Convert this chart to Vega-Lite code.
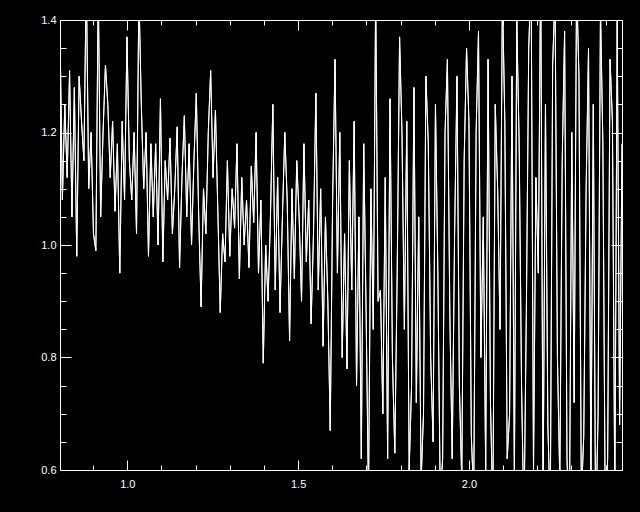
{
  "$schema": "https://vega.github.io/schema/vega-lite/v6.json",
  "width": 562,
  "height": 450,
  "autosize": {"type": "none"},
  "padding": {"left": 60, "top": 20, "right": 18, "bottom": 42},
  "background": "black",
  "config": {"view": {"stroke": null}},
  "data": {"values": [
    {"x":0.803,"y":1.38},{"x":0.810,"y":1.08},{"x":0.817,"y":1.25},{"x":0.824,"y":1.12},{"x":0.831,"y":1.31},{"x":0.838,"y":1.05},{"x":0.845,"y":1.28},{"x":0.852,"y":0.98},{"x":0.859,"y":1.30},{"x":0.866,"y":1.22},
    {"x":0.873,"y":1.15},{"x":0.880,"y":1.48},{"x":0.887,"y":1.10},{"x":0.894,"y":1.20},{"x":0.901,"y":1.02},{"x":0.908,"y":0.99},{"x":0.915,"y":1.46},{"x":0.922,"y":1.05},{"x":0.929,"y":1.20},{"x":0.936,"y":1.32},
    {"x":0.943,"y":1.25},{"x":0.950,"y":1.12},{"x":0.957,"y":1.22},{"x":0.964,"y":1.06},{"x":0.971,"y":1.18},{"x":0.978,"y":0.95},{"x":0.985,"y":1.22},{"x":0.992,"y":1.08},{"x":0.999,"y":1.37},{"x":1.006,"y":1.15},
    {"x":1.013,"y":1.08},{"x":1.020,"y":1.20},{"x":1.027,"y":1.02},{"x":1.034,"y":1.45},{"x":1.041,"y":1.25},{"x":1.048,"y":1.10},{"x":1.055,"y":1.20},{"x":1.062,"y":0.98},{"x":1.069,"y":1.18},{"x":1.076,"y":1.05},
    {"x":1.083,"y":1.18},{"x":1.090,"y":1.00},{"x":1.097,"y":1.26},{"x":1.104,"y":0.97},{"x":1.111,"y":1.15},{"x":1.118,"y":1.08},{"x":1.125,"y":1.19},{"x":1.132,"y":1.02},{"x":1.139,"y":1.10},{"x":1.146,"y":1.21},
    {"x":1.153,"y":0.96},{"x":1.160,"y":1.12},{"x":1.167,"y":1.23},{"x":1.174,"y":1.05},{"x":1.181,"y":1.18},{"x":1.188,"y":1.00},{"x":1.195,"y":1.15},{"x":1.202,"y":1.27},{"x":1.209,"y":1.05},{"x":1.216,"y":0.89},
    {"x":1.223,"y":1.10},{"x":1.230,"y":1.02},{"x":1.237,"y":1.20},{"x":1.244,"y":1.31},{"x":1.251,"y":1.12},{"x":1.258,"y":1.24},{"x":1.265,"y":1.06},{"x":1.272,"y":0.88},{"x":1.279,"y":1.02},{"x":1.286,"y":0.97},
    {"x":1.293,"y":1.15},{"x":1.300,"y":0.98},{"x":1.307,"y":1.10},{"x":1.314,"y":1.03},{"x":1.321,"y":1.18},{"x":1.328,"y":0.94},{"x":1.335,"y":1.12},{"x":1.342,"y":1.00},{"x":1.349,"y":1.08},{"x":1.356,"y":0.96},
    {"x":1.363,"y":1.14},{"x":1.370,"y":1.04},{"x":1.377,"y":1.20},{"x":1.384,"y":0.95},{"x":1.391,"y":1.08},{"x":1.398,"y":0.79},{"x":1.405,"y":1.00},{"x":1.412,"y":0.90},{"x":1.419,"y":1.05},{"x":1.426,"y":1.25},
    {"x":1.433,"y":0.92},{"x":1.440,"y":1.12},{"x":1.447,"y":0.88},{"x":1.454,"y":1.05},{"x":1.461,"y":1.20},{"x":1.468,"y":1.08},{"x":1.475,"y":0.83},{"x":1.482,"y":1.10},{"x":1.489,"y":0.94},{"x":1.496,"y":1.15},
    {"x":1.503,"y":1.05},{"x":1.510,"y":0.90},{"x":1.517,"y":1.18},{"x":1.524,"y":0.97},{"x":1.531,"y":1.08},{"x":1.538,"y":0.86},{"x":1.545,"y":1.02},{"x":1.552,"y":1.27},{"x":1.559,"y":0.92},{"x":1.566,"y":1.10},
    {"x":1.573,"y":0.82},{"x":1.580,"y":1.05},{"x":1.587,"y":0.90},{"x":1.594,"y":0.67},{"x":1.601,"y":1.08},{"x":1.608,"y":1.33},{"x":1.615,"y":0.95},{"x":1.622,"y":1.20},{"x":1.629,"y":0.80},{"x":1.636,"y":1.02},
    {"x":1.643,"y":0.78},{"x":1.650,"y":1.15},{"x":1.657,"y":0.92},{"x":1.664,"y":1.22},{"x":1.671,"y":0.75},{"x":1.678,"y":1.05},{"x":1.685,"y":0.62},{"x":1.692,"y":1.18},{"x":1.699,"y":0.88},{"x":1.706,"y":0.55},
    {"x":1.713,"y":1.10},{"x":1.720,"y":0.85},{"x":1.727,"y":1.45},{"x":1.734,"y":0.90},{"x":1.741,"y":0.92},{"x":1.748,"y":0.70},{"x":1.755,"y":1.12},{"x":1.762,"y":0.62},{"x":1.769,"y":1.26},{"x":1.776,"y":0.80},
    {"x":1.783,"y":0.63},{"x":1.790,"y":0.95},{"x":1.797,"y":1.37},{"x":1.804,"y":1.20},{"x":1.811,"y":0.85},{"x":1.818,"y":1.22},{"x":1.825,"y":0.60},{"x":1.832,"y":0.75},{"x":1.839,"y":1.28},{"x":1.846,"y":0.72},
    {"x":1.853,"y":1.05},{"x":1.860,"y":0.58},{"x":1.867,"y":0.70},{"x":1.874,"y":1.30},{"x":1.881,"y":1.18},{"x":1.888,"y":0.80},{"x":1.895,"y":0.65},{"x":1.902,"y":1.25},{"x":1.909,"y":0.95},{"x":1.916,"y":0.55},
    {"x":1.923,"y":0.62},{"x":1.930,"y":1.20},{"x":1.937,"y":1.33},{"x":1.944,"y":0.88},{"x":1.951,"y":0.62},{"x":1.958,"y":1.02},{"x":1.965,"y":1.30},{"x":1.972,"y":0.75},{"x":1.979,"y":0.58},{"x":1.986,"y":1.15},
    {"x":1.993,"y":1.35},{"x":2.000,"y":1.22},{"x":2.007,"y":0.66},{"x":2.014,"y":0.55},{"x":2.021,"y":1.20},{"x":2.028,"y":1.38},{"x":2.035,"y":0.80},{"x":2.042,"y":1.05},{"x":2.049,"y":0.60},{"x":2.056,"y":1.33},
    {"x":2.063,"y":0.72},{"x":2.070,"y":0.52},{"x":2.077,"y":1.25},{"x":2.084,"y":1.10},{"x":2.091,"y":0.85},{"x":2.098,"y":1.45},{"x":2.105,"y":1.22},{"x":2.112,"y":0.62},{"x":2.119,"y":0.70},{"x":2.126,"y":1.30},
    {"x":2.133,"y":0.58},{"x":2.140,"y":1.40},{"x":2.147,"y":1.18},{"x":2.154,"y":0.75},{"x":2.161,"y":0.50},{"x":2.168,"y":0.88},{"x":2.175,"y":1.35},{"x":2.182,"y":1.48},{"x":2.189,"y":0.60},{"x":2.196,"y":1.12},
    {"x":2.203,"y":0.95},{"x":2.210,"y":1.50},{"x":2.217,"y":0.55},{"x":2.224,"y":1.25},{"x":2.231,"y":0.68},{"x":2.238,"y":0.52},{"x":2.245,"y":1.32},{"x":2.252,"y":1.45},{"x":2.259,"y":0.80},{"x":2.266,"y":0.58},
    {"x":2.273,"y":1.15},{"x":2.280,"y":1.38},{"x":2.287,"y":0.62},{"x":2.294,"y":0.50},{"x":2.301,"y":1.20},{"x":2.308,"y":0.72},{"x":2.315,"y":1.47},{"x":2.322,"y":1.30},{"x":2.329,"y":0.55},{"x":2.336,"y":0.66},
    {"x":2.343,"y":1.10},{"x":2.350,"y":1.35},{"x":2.357,"y":0.58},{"x":2.364,"y":1.25},{"x":2.371,"y":0.48},{"x":2.378,"y":0.70},{"x":2.385,"y":1.42},{"x":2.392,"y":1.18},{"x":2.399,"y":0.52},{"x":2.406,"y":0.62},
    {"x":2.413,"y":1.33},{"x":2.420,"y":1.22},{"x":2.427,"y":0.55},{"x":2.434,"y":1.40},{"x":2.441,"y":0.68},{"x":2.448,"y":1.18}
  ]},
  "layer": [
    {
      "mark": {"type": "line", "color": "white", "strokeWidth": 1, "clip": true},
      "encoding": {
        "x": {"field": "x", "type": "quantitative", "scale": {"domain": [0.803, 2.448], "nice": false, "zero": false},
          "axis": {"orient": "bottom", "title": null, "grid": false,
            "values": [0.9,1.0,1.1,1.2,1.3,1.4,1.5,1.6,1.7,1.8,1.9,2.0,2.1,2.2,2.3,2.4],
            "domainColor": "white", "domainWidth": 1, "tickColor": "white", "tickWidth": 1,
            "tickSize": {"condition": {"test": "abs(datum.value*2 - round(datum.value*2)) < 0.001", "value": -10}, "value": -5},
            "labelExpr": "abs(datum.value*2 - round(datum.value*2)) < 0.001 ? format(datum.value, '.1f') : ''",
            "labelColor": "white", "labelFont": "Liberation Sans", "labelFontSize": 11, "labelPadding": 18, "labelFlush": false, "labelOverlap": false}},
        "y": {"field": "y", "type": "quantitative", "scale": {"domain": [0.6, 1.4], "nice": false, "zero": false},
          "axis": {"orient": "left", "title": null, "grid": false,
            "values": [0.6,0.65,0.7,0.75,0.8,0.85,0.9,0.95,1.0,1.05,1.1,1.15,1.2,1.25,1.3,1.35,1.4],
            "domainColor": "white", "domainWidth": 1, "tickColor": "white", "tickWidth": 1,
            "tickSize": {"condition": {"test": "abs(datum.value*5 - round(datum.value*5)) < 0.001", "value": -11}, "value": -6},
            "labelExpr": "abs(datum.value*5 - round(datum.value*5)) < 0.001 ? format(datum.value, '.1f') : ''",
            "labelColor": "white", "labelFont": "Liberation Sans", "labelFontSize": 11, "labelPadding": 15, "labelFlush": false, "labelOverlap": false}}
      }
    },
    {
      "mark": {"type": "line", "color": "white", "strokeWidth": 1, "clip": true},
      "encoding": {
        "x": {"field": "x", "type": "quantitative", "scale": {"domain": [0.803, 2.448], "nice": false, "zero": false},
          "axis": {"orient": "top", "title": null, "grid": false, "labels": false,
            "values": [0.9,1.0,1.1,1.2,1.3,1.4,1.5,1.6,1.7,1.8,1.9,2.0,2.1,2.2,2.3,2.4],
            "domainColor": "white", "domainWidth": 1, "tickColor": "white", "tickWidth": 1,
            "tickSize": {"condition": {"test": "abs(datum.value*2 - round(datum.value*2)) < 0.001", "value": -10}, "value": -5}}},
        "y": {"field": "y", "type": "quantitative", "scale": {"domain": [0.6, 1.4], "nice": false, "zero": false},
          "axis": {"orient": "right", "title": null, "grid": false, "labels": false,
            "values": [0.6,0.65,0.7,0.75,0.8,0.85,0.9,0.95,1.0,1.05,1.1,1.15,1.2,1.25,1.3,1.35,1.4],
            "domainColor": "white", "domainWidth": 1, "tickColor": "white", "tickWidth": 1,
            "tickSize": {"condition": {"test": "abs(datum.value*5 - round(datum.value*5)) < 0.001", "value": -11}, "value": -6}}}
      }
    }
  ],
  "resolve": {"axis": {"x": "independent", "y": "independent"}}
}
